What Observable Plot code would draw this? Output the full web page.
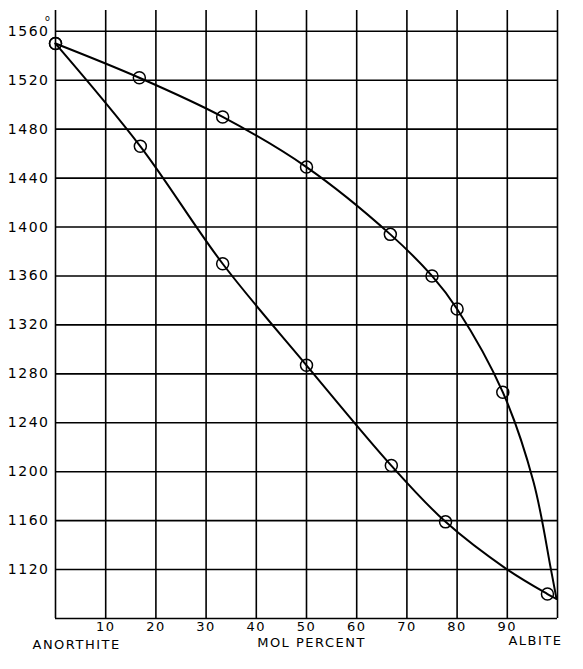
<!DOCTYPE html>
<html>
<head>
<meta charset="utf-8">
<script src="https://cdn.jsdelivr.net/npm/d3@7"></script>
<script src="https://cdn.jsdelivr.net/npm/@observablehq/plot@0.6"></script>
<style>
  html, body { margin: 0; padding: 0; background: #fff; }
  #chart svg { display: block; }
</style>
</head>
<body>
<div id="chart"></div>
<script>
// Tick values
const xTicks = [10, 20, 30, 40, 50, 60, 70, 80, 90];
const yTicks = [1120, 1160, 1200, 1240, 1280, 1320, 1360, 1400, 1440, 1480, 1520, 1560];
const xGrid = [0, 10, 20, 30, 40, 50, 60, 70, 80, 90, 100];
const yGrid = [1080, 1120, 1160, 1200, 1240, 1280, 1320, 1360, 1400, 1440, 1480, 1520, 1560];

// Measured points (circles)
const liqPtsX = [0, 16.7, 33.3, 50, 66.7, 75, 80, 89.1];
const liqPtsY = [1550, 1522, 1490, 1449, 1394, 1360, 1333, 1265];
const solPtsX = [0, 16.9, 33.3, 50, 66.9, 77.7, 98];
const solPtsY = [1550, 1466, 1370, 1287, 1205, 1159, 1100];

// Curves
const liqLineX = [0, 16.7, 33.3, 50, 66.7, 75, 80, 89.1, 95.2, 98.7, 99.8];
const liqLineY = [1550, 1522, 1490, 1449, 1394, 1360, 1333, 1265, 1192, 1120, 1096];
const solLineX = [0, 16.9, 33.3, 50, 66.9, 77.7, 90, 98, 99.8];
const solLineY = [1550, 1466, 1370, 1287, 1205, 1159, 1120, 1100, 1096];

// Bottom captions
const captionText = ["ANORTHITE", "MOL PERCENT", "ALBITE"];
const captionX = [4.2, 51, 95.6];
const captionDy = [30, 28, 26];

const pts = (xs, ys) => xs.map((x, i) => ({x, y: ys[i]}));
const liqPts = pts(liqPtsX, liqPtsY), solPts = pts(solPtsX, solPtsY);
const liqLine = pts(liqLineX, liqLineY), solLine = pts(solLineX, solLineY);
const captions = captionText.map((t, i) => ({t, x: captionX[i], dy: captionDy[i]}));

const chart = Plot.plot({
  width: 583,
  height: 669,
  marginLeft: 55,
  marginRight: 26,
  marginTop: 10,
  marginBottom: 51,
  x: {domain: [0, 100], axis: null},
  y: {domain: [1080, 1577], axis: null},
  style: {fontFamily: "'DejaVu Sans', sans-serif", fontSize: "13px", color: "#000", background: "#fff", letterSpacing: "1.5px"},
  marks: [
    Plot.ruleX(xGrid, {stroke: "#000", strokeWidth: 1.6}),
    Plot.ruleY(yGrid, {stroke: "#000", strokeWidth: 1.6}),
    Plot.axisX(xTicks, {tickSize: 0, tickPadding: 3, label: null, fontSize: 13, tickFormat: d => String(d)}),
    Plot.axisY(yTicks, {tickSize: 0, tickPadding: 6, label: null, fontSize: 14, tickFormat: d => String(d)}),
    Plot.text([{x: 0, y: 1560}], {x: "x", y: "y", text: () => "o", dx: -4, dy: -13, fontSize: 8, textAnchor: "end"}),
    Plot.line(liqLine, {x: "x", y: "y", curve: "catmull-rom", stroke: "#000", strokeWidth: 2}),
    Plot.line(solLine, {x: "x", y: "y", curve: "catmull-rom", stroke: "#000", strokeWidth: 2}),
    Plot.dot(liqPts, {x: "x", y: "y", r: 6, stroke: "#000", strokeWidth: 1.5, fill: "none"}),
    Plot.dot(solPts, {x: "x", y: "y", r: 6, stroke: "#000", strokeWidth: 1.5, fill: "none"}),
    ...captions.map(c => Plot.text([c], {x: "x", frameAnchor: "bottom", text: "t", dy: c.dy, fontSize: 13}))
  ]
});
document.getElementById("chart").appendChild(chart);
</script>
</body>
</html>
